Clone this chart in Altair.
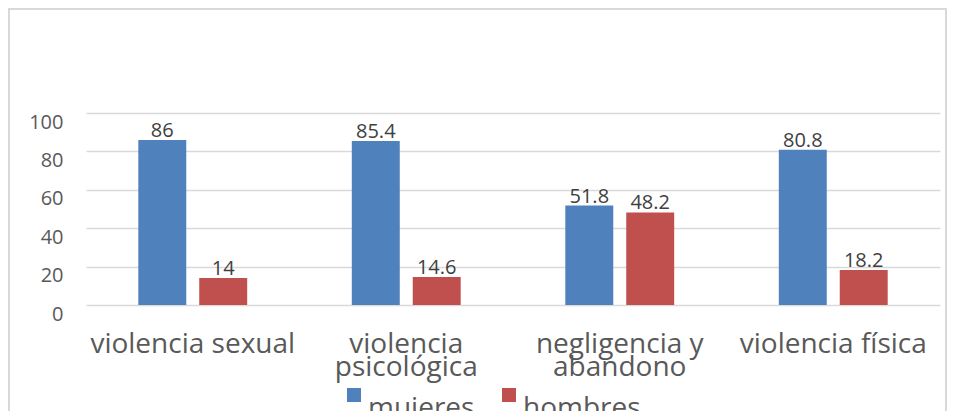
import json
import altair as alt
import pandas as pd

categories = ["violencia sexual", "violencia psicológica", "negligencia y abandono", "violencia física"]
label_lines = [["violencia sexual"], ["violencia", "psicológica"], ["negligencia y", "abandono"], ["violencia física"]]
series = ["mujeres", "hombres"]
mujeres = [86, 85.4, 51.8, 80.8]
hombres = [14, 14.6, 48.2, 18.2]
colors = ["#4F81BD", "#C0504D"]
y_ticks = [0, 20, 40, 60, 80, 100]

rows = []
for c, m, h in zip(categories, mujeres, hombres):
    rows.append({"categoria": c, "sexo": "mujeres", "valor": m})
    rows.append({"categoria": c, "sexo": "hombres", "valor": h})
df = pd.DataFrame(rows)

expr = "datum.label"
for c, lines in reversed(list(zip(categories, label_lines))):
    expr = f"datum.label == {json.dumps(c, ensure_ascii=False)} ? {json.dumps(lines, ensure_ascii=False)} : ({expr})"

FONT = "Open Sans"
TXT = "#595959"

x_enc = alt.X(
    "categoria:N", sort=categories, title=None,
    scale=alt.Scale(paddingInner=0.49, paddingOuter=0.245),
    axis=alt.Axis(labelAngle=0, labelFontSize=28, labelColor=TXT, labelFont=FONT,
                  domain=False, ticks=False, labelPadding=25, labelLineHeight=23,
                  labelExpr=expr, labelOverlap=False, labelLimit=0, grid=False),
)
xo_enc = alt.XOffset("sexo:N", sort=series, scale=alt.Scale(paddingInner=0.213, paddingOuter=0))
y_enc = alt.Y(
    "valor:Q", title=None, scale=alt.Scale(domain=[0, 100], nice=False),
    axis=alt.Axis(values=y_ticks, labelFontSize=20, labelColor=TXT, labelFont=FONT,
                  labelPadding=23, domain=False, ticks=False, gridColor="#d9d9d9",
                  gridWidth=1.5, labelBaseline="top", labelOffset=-1,
                  labelOverlap=False, labelBound=False, labelFlush=False),
)

base = alt.Chart(df)

bars = base.mark_bar().encode(
    x=x_enc, xOffset=xo_enc, y=y_enc,
    color=alt.Color("sexo:N", sort=series,
                    scale=alt.Scale(domain=series, range=colors),
                    legend=alt.Legend(orient="none", legendX=254, legendY=268,
                                      direction="horizontal", title=None,
                                      symbolType="square", symbolSize=196,
                                      symbolStrokeWidth=0, labelFontSize=28,
                                      labelFont=FONT, labelColor=TXT,
                                      columnPadding=20, labelOffset=0,
                                      labelBaseline="top")),
)

labels = base.mark_text(baseline="alphabetic", dy=-3, fontSize=20, font=FONT, color="#404040").encode(
    x=x_enc,
    xOffset=xo_enc,
    y=y_enc,
    text=alt.Text("valor:Q", format=".1~f"),
)

border = alt.Chart(alt.Data(values=[{}])).mark_rect(
    fill=None, stroke="#d9d9d9", strokeWidth=2
).encode(x=alt.value(-77), x2=alt.value(860), y=alt.value(-104), y2=alt.value(400))

chart = alt.layer(border, bars, labels).properties(
    width=854, height=192,
    autosize=alt.AutoSizeParams(type="none"),
    padding={"left": 78, "top": 105, "right": 8, "bottom": 106},
).configure_view(stroke=None)

chart.save("out.html", embed_options={"renderer": "svg", "actions": False})
